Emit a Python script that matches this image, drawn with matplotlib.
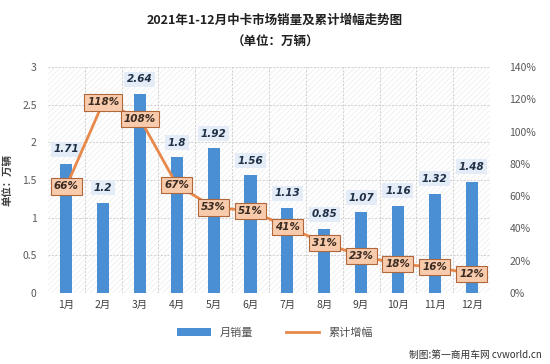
import matplotlib
matplotlib.use("Agg")
import matplotlib.pyplot as plt
from matplotlib.patches import Rectangle
from matplotlib.lines import Line2D
from matplotlib.ticker import FuncFormatter

plt.rcParams['font.family'] = ['Noto Sans CJK SC', 'DejaVu Sans']
plt.rcParams['hatch.linewidth'] = 0.5

months = ['1月', '2月', '3月', '4月', '5月', '6月', '7月', '8月', '9月', '10月', '11月', '12月']
sales = [1.71, 1.2, 2.64, 1.8, 1.92, 1.56, 1.13, 0.85, 1.07, 1.16, 1.32, 1.48]
growth = [66, 118, 108, 67, 53, 51, 41, 31, 23, 18, 16, 12]

fig = plt.figure(figsize=(5.5, 3.64), dpi=100)
ax = fig.add_axes([0.087, 0.195, 0.804, 0.621])
ax2 = ax.twinx()

x = list(range(len(months)))
ax.set_xlim(-0.5, 11.5)
ax.set_ylim(0, 3)
ax2.set_ylim(0, 1.4)

# hatched background
bg = Rectangle((0, 0), 1, 1, transform=ax.transAxes, facecolor='white',
               edgecolor='#ebebeb', hatch='//////', linewidth=0, zorder=0)
ax.add_patch(bg)

for yv in [0.5, 1, 1.5, 2, 2.5, 3]:
    ax.axhline(yv, color='#d0d0d0', lw=0.7, ls=(0, (2, 1.5)), zorder=1)
for xv in [i + 0.5 for i in range(11)]:
    ax.axvline(xv, color='#d0d0d0', lw=0.7, ls=(0, (2, 1.5)), zorder=1)

ax.bar(x, sales, width=0.33, color='#4a8fd3', zorder=2)
for xi, v in zip(x, sales):
    ax.annotate(f'{v:g}', (xi, v), xytext=(0, 7), textcoords='offset points',
                ha='center', va='bottom', fontsize=7.5, fontstyle='italic', fontweight='bold',
                color='#1f2f45', family='DejaVu Sans',
                bbox=dict(boxstyle='square,pad=0.25', fc='#e3ecf7', ec='none'), zorder=5)

ax2.plot(x, [g / 100 for g in growth], color='#e8884a', lw=2, zorder=3)
for xi, g in zip(x, growth):
    ax2.annotate(f'{g}%', (xi, g / 100), ha='center', va='center', fontsize=7.5,
                 fontstyle='italic', fontweight='bold', color='#3a2a20', family='DejaVu Sans',
                 bbox=dict(boxstyle='square,pad=0.3', fc='#f8cbad', ec='#b0673a', lw=0.8), zorder=6)

ax.set_xticks(x)
ax.set_xticklabels(months, fontsize=7.5, color='#404040')
ax.set_yticks([0, 0.5, 1, 1.5, 2, 2.5, 3])
ax.yaxis.set_major_formatter(FuncFormatter(lambda v, p: f'{v:g}'))
ax.tick_params(axis='y', labelsize=7.5, colors='#595959', length=0, pad=8)
ax.tick_params(axis='x', length=0, pad=5)
ax2.set_yticks([i / 10 for i in range(0, 15, 2)])
ax2.yaxis.set_major_formatter(FuncFormatter(lambda v, p: f'{v*100:.0f}%'))
ax2.tick_params(axis='y', labelsize=7.5, colors='#595959', length=0, pad=14)
for a in (ax, ax2):
    for s in a.spines.values():
        s.set_visible(False)
ax.set_ylabel('单位：万辆', fontsize=7.5, fontweight='bold', color='#404040', labelpad=6)

fig.text(0.5, 0.945, '2021年1-12月中卡市场销量及累计增幅走势图', ha='center', va='center',
         fontsize=9, fontweight='bold', color='#202020')
fig.text(0.5, 0.885, '（单位：万辆）', ha='center', va='center',
         fontsize=9, fontweight='bold', color='#202020')

handles = [Rectangle((0, 0), 1, 1, fc='#4a8fd3'),
           Line2D([0], [0], color='#e8884a', lw=2)]
fig.legend(handles, ['月销量', '累计增幅'], loc='center', bbox_to_anchor=(0.5, 0.085),
           ncol=2, frameon=False, fontsize=8, handlelength=3, columnspacing=3,
           labelcolor='#505050')

fig.text(0.985, 0.025, '制图:第一商用车网 cvworld.cn', ha='right', va='center',
         fontsize=7, color='#303030')

fig.savefig('out.png', dpi=100)
